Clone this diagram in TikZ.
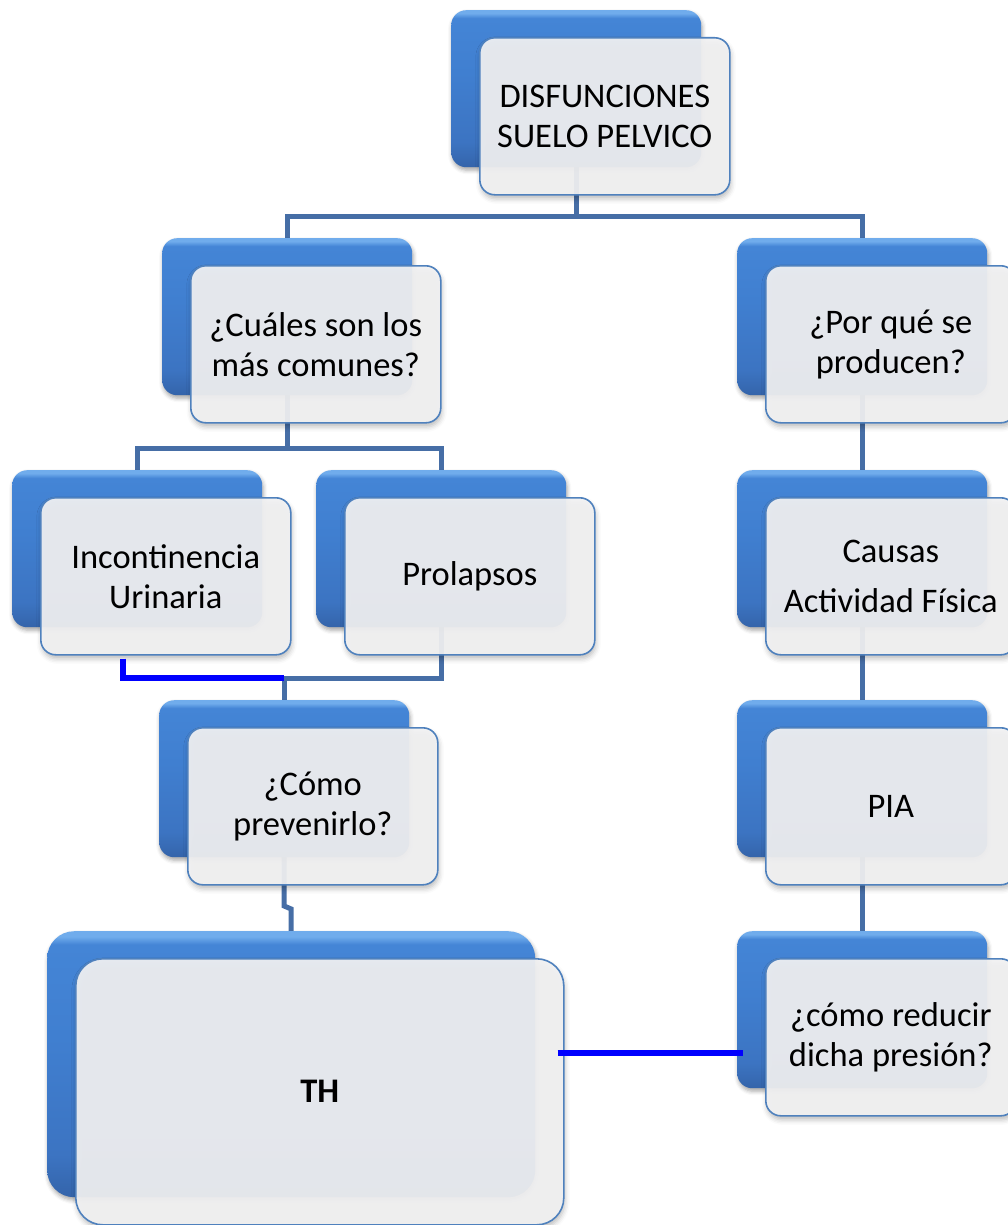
\documentclass[tikz,border=0pt]{standalone}
\usepackage{fontspec}
\setmainfont{Carlito}
\usetikzlibrary{shadows.blur}

\definecolor{connblue}{RGB}{70,110,166}
\definecolor{edgeblue}{RGB}{79,129,189}
\definecolor{panel}{RGB}{242,242,243}
\definecolor{pureblue}{RGB}{0,0,255}
\definecolor{bk0}{RGB}{112,172,236}
\definecolor{bk1}{RGB}{68,133,214}
\definecolor{bk2}{RGB}{64,127,208}
\definecolor{bk4}{RGB}{60,116,194}
\definecolor{bk3}{RGB}{52,100,170}

% glossy blue of the rear tiles (path spans 25bp..75bp)
\pgfdeclareverticalshading{backblue}{100bp}{%
  color(0bp)=(bk3); color(25bp)=(bk3); color(33bp)=(bk4); color(55bp)=(bk2);
  color(72.5bp)=(bk1); color(74bp)=(bk0); color(75bp)=(bk0); color(100bp)=(bk0)}

\pgfdeclarelayer{bg}
\pgfsetlayers{bg,main}

\tikzset{
  backbox/.style={rectangle, anchor=north west, shading=backblue, draw=none,
    blur shadow={shadow xshift=1pt, shadow yshift=-3pt, shadow blur radius=4pt, shadow opacity=35}},
  frontbox/.style={rectangle, anchor=north west, fill=panel, fill opacity=0.93,
    draw=edgeblue, line width=1.6pt,
    blur shadow={shadow xshift=1pt, shadow yshift=-4pt, shadow blur radius=5pt, shadow opacity=28}},
  tiletext/.style={align=center, text=black, font=\fontsize{34.5}{40}\selectfont},
  conn/.style={draw=connblue, line width=5pt},
  blueconn/.style={draw=pureblue, line width=5.5pt},
}

% #1 name, #2 x, #3 y (top-left of rear tile), #4 width, #5 height, #6 corner radius, #7 text
\newcommand\tile[7]{%
  \node[backbox, rounded corners=#6, minimum width=#4pt, minimum height=#5pt] (#1B) at (#2,#3) {};
  \node[frontbox, rounded corners=#6, minimum width=#4pt, minimum height=#5pt] (#1F) at (#2+28,#3+27) {};
  \node[tiletext] (#1T) at (#1F.center) {#7};
}

\begin{document}
\begin{tikzpicture}[x=1pt, y=-1pt]
\useasboundingbox (0,0) rectangle (1008,1225);

\tile{top}{451}{10}{250}{157}{15pt}{DISFUNCIONES\\SUELO PELVICO}
\tile{cual}{162}{238}{250}{157}{15pt}{¿Cuáles son los\\más comunes?}
\tile{por}{737}{238}{250}{157}{15pt}{¿Por qué se\\producen?}
\tile{inc}{12}{470}{250}{157}{15pt}{Incontinencia\\Urinaria}
\tile{pro}{316}{470}{250}{157}{15pt}{Prolapsos}
\tile{caus}{737}{470}{250}{157}{15pt}{Causas\\[10pt]Actividad Física}
\tile{como}{159}{700}{250}{157}{15pt}{¿Cómo\\prevenirlo?}
\tile{pia}{737}{700}{250}{157}{15pt}{PIA}
\tile{red}{737}{931}{250}{157}{15pt}{¿cómo reducir\\dicha presión?}
\tile{th}{47}{931}{488}{266}{27pt}{\bfseries TH}

% levels of the horizontal runs
\coordinate (barA) at (0,216);
\coordinate (barB) at (0,448);
\coordinate (barC) at (0,678);
\coordinate (jogA) at (0,906);
\coordinate (jogB) at (0,909);
\coordinate (blvl) at (0,1053);
\coordinate (incdrop) at (123,0);

\begin{pgfonlayer}{bg}
  \draw[conn] (topB.center) -- (topB.center |- barA) -| (cualB.center);
  \draw[conn] (topB.center |- barA) -| (porB.center);
  \draw[conn] (cualB.center) -- (cualB.center |- barB) -| (incB.center);
  \draw[conn] (cualB.center |- barB) -| (proB.center);
  \draw[conn] (proB.center) |- (comoB.center |- barC) -- (comoB.center);
  \draw[conn] (comoB.center) -- (comoB.center |- jogA) -- (thB.center |- jogB) -- (thB.center);
  \draw[conn] (porB.center) -- (redB.center);
\end{pgfonlayer}

\draw[blueconn, shorten <=3pt] (incdrop |- incF.south) -- (incdrop |- barC) -- (comoB.center |- barC);
\draw[blueconn, shorten <=-7pt, shorten >=-6pt] (thF.east |- blvl) -- (redB.west |- blvl);
\end{tikzpicture}
\end{document}
